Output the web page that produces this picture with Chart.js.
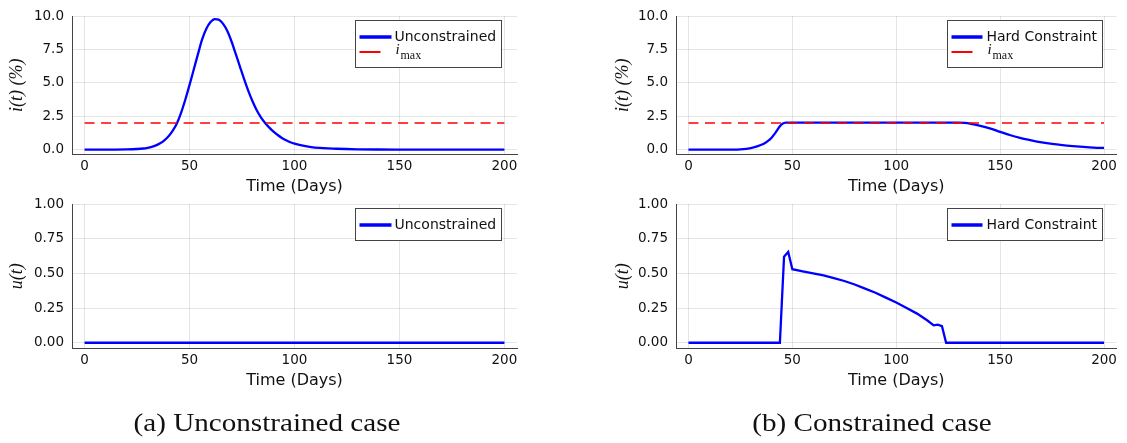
<!DOCTYPE html>
<html>
<head>
<meta charset="utf-8">
<script src="https://cdn.jsdelivr.net/npm/chart.js@4.4.1/dist/chart.umd.min.js"></script>
<style>
body { margin: 0; background: #fff; width: 1127px; height: 443px; overflow: hidden; position: relative; }
canvas { position: absolute; left: 0; top: 0; }
.cap { position: absolute; top: 410px; width: 400px; text-align: center; font-family: 'Liberation Serif', serif;
       font-size: 26px; line-height: 26px; white-space: nowrap; color: #111; transform: scaleX(1.12); transform-origin: center; }
</style>
</head>
<body>
<canvas id="tl" width="1127" height="443"></canvas>
<canvas id="tr" width="1127" height="443"></canvas>
<canvas id="bl" width="1127" height="443"></canvas>
<canvas id="br" width="1127" height="443"></canvas>
<div class="cap" style="left:66.5px">(a) Unconstrained case</div>
<div class="cap" style="left:672px">(b) Constrained case</div>
<script>
// 數據
const xTicks = [0, 50, 100, 150, 200];
const iTicks = [0, 2.5, 5, 7.5, 10];
const uTicks = [0, 0.25, 0.5, 0.75, 1];

const imaxDays = [0, 200];
const imaxValues = [2, 2];

// 無約束 i(t)
const freeDays = [0,10,20,25,28,30,32,34,36,38,40,42,44,46,48,50,52,54,56,58,60,62,64,66,68,70,72,74,76,78,80,82,84,86,88,90,92,94,96,98,100,104,108,112,116,120,130,140,150,175,200];
const freeI = [0,0.005,0.02,0.05,0.09,0.14,0.21,0.32,0.48,0.7,1.0,1.42,1.98,2.78,3.76,4.85,6.0,7.15,8.25,9.05,9.55,9.78,9.72,9.42,8.88,8.1,7.17,6.22,5.28,4.4,3.62,2.95,2.42,2.0,1.65,1.35,1.1,0.88,0.7,0.56,0.45,0.3,0.2,0.14,0.1,0.07,0.03,0.015,0.01,0.005,0];

// 硬約束 i(t)
const hardDays = [0,10,20,25,30,33,36,38,40,42,44,45,46,47,60,80,100,120,130,133,136,140,145,150,155,160,165,170,175,180,185,190,195,200];
const hardI = [0,0.003,0.01,0.03,0.12,0.25,0.43,0.62,0.9,1.3,1.75,1.92,2.0,2.02,2.02,2.02,2.02,2.02,2.02,2.0,1.93,1.8,1.6,1.33,1.08,0.87,0.7,0.55,0.43,0.34,0.27,0.21,0.16,0.13];

// 控制 u(t)
const freeUDays = [0, 200];
const freeU = [0, 0];
const ctrlDays = [0,44,46,48,50,55,60,65,70,75,80,85,90,95,100,105,110,115,118,120,122,124,200];
const ctrlU = [0,0,0.62,0.655,0.53,0.515,0.5,0.485,0.465,0.445,0.42,0.39,0.36,0.325,0.29,0.25,0.21,0.16,0.125,0.13,0.12,0,0];

const W = 1127, H = 443;
const BLUE = '#0000ff', RED = '#ff0000';

Chart.defaults.font.family = "'DejaVu Sans'";
Chart.defaults.color = '#111';

function pts(xs, ys) {
    return xs.map((x, i) => ({ x: x, y: ys[i] }));
}

// 框內圖例
const boxLegend = {
    id: 'boxLegend',
    afterDraw(chart, args, opts) {
        const ctx = chart.ctx;
        const ca = chart.chartArea;
        const items = opts.items;
        ctx.save();
        ctx.font = "14px 'DejaVu Sans'";
        let textW = 0;
        items.forEach(it => {
            if (!it.math) textW = Math.max(textW, ctx.measureText(it.text).width);
        });
        const w = Math.round(44 + textW);
        const h = items.length === 2 ? 47 : 32;
        const left = Math.round(ca.right - opts.inset - w) + 0.5;
        const top = Math.round(ca.top + 4) + 0.5;
        ctx.fillStyle = '#fff';
        ctx.fillRect(left, top, w, h);
        ctx.strokeStyle = '#444';
        ctx.lineWidth = 1;
        ctx.strokeRect(left, top, w, h);
        items.forEach((it, i) => {
            const cy = top + 16.5 + i * 15;
            ctx.beginPath();
            ctx.strokeStyle = it.color;
            ctx.lineWidth = it.width;
            ctx.moveTo(left + 4, cy);
            ctx.lineTo(left + 4 + it.len, cy);
            ctx.stroke();
            ctx.fillStyle = '#111';
            if (it.math) {
                ctx.textBaseline = 'alphabetic';
                ctx.font = "italic 15px 'Liberation Serif'";
                ctx.fillText('i', left + 40, cy + 1.5);
                ctx.font = "12px 'Liberation Serif'";
                ctx.fillText('max', left + 45, cy + 6.5);
            } else {
                ctx.textBaseline = 'middle';
                ctx.font = "14px 'DejaVu Sans'";
                ctx.fillText(it.text, left + 39, cy + 0.5);
            }
        });
        ctx.restore();
    }
};

function makeChart(id, p) {
    return new Chart(document.getElementById(id), {
        type: 'line',
        data: { datasets: p.datasets },
        options: {
            responsive: false,
            animation: false,
            devicePixelRatio: 1,
            layout: {
                padding: { left: p.scaleLeft, top: p.area.top, right: W - p.area.right, bottom: H - p.area.bottom - 42 }
            },
            plugins: {
                legend: { display: false },
                tooltip: { enabled: false },
                boxLegend: { items: p.legend, inset: p.inset }
            },
            scales: {
                x: {
                    type: 'linear',
                    min: -6,
                    max: 206,
                    afterBuildTicks: s => { s.ticks = xTicks.map(v => ({ value: v })); },
                    afterFit: s => { s.height = 42; },
                    ticks: { font: { size: 13.5 }, padding: 4, color: '#111', maxRotation: 0, autoSkip: false,
                             callback: v => String(v) },
                    grid: { color: 'rgba(0,0,0,0.1)', drawTicks: false },
                    border: { display: true, color: '#444', width: 1 },
                    title: { display: true, text: 'Time (Days)', font: { size: 16 }, padding: { top: 0, bottom: 0 }, color: '#111' }
                },
                y: {
                    type: 'linear',
                    min: p.yMin,
                    max: p.yMax,
                    afterBuildTicks: s => { s.ticks = p.yTicks.map(v => ({ value: v })); },
                    afterFit: s => { s.width = p.area.left - p.scaleLeft; },
                    ticks: { font: { size: 13.5 }, padding: 8, color: '#111', autoSkip: false,
                             callback: v => v.toFixed(p.digits) },
                    grid: { color: 'rgba(0,0,0,0.1)', drawTicks: false },
                    border: { display: true, color: '#444', width: 1 },
                    title: { display: true, text: p.yTitle, color: '#111', padding: { top: 0, bottom: 0 },
                             font: { family: "'Liberation Serif'", style: 'italic', size: 18 } }
                }
            }
        },
        plugins: [boxLegend]
    });
}

function blueLine(label, xs, ys, smooth) {
    return { label: label, data: pts(xs, ys), borderColor: BLUE, borderWidth: 2.3, pointRadius: 0,
             fill: false, tension: smooth ? 0.4 : 0, cubicInterpolationMode: smooth ? 'monotone' : 'default' };
}
function imaxLine() {
    return { label: 'i_max', data: pts(imaxDays, imaxValues), borderColor: RED, borderWidth: 1.6,
             borderDash: [10, 6.5], pointRadius: 0, fill: false };
}

const legUnc = { text: 'Unconstrained', color: BLUE, width: 3.5, len: 32 };
const legHard = { text: 'Hard Constraint', color: BLUE, width: 3.5, len: 31 };
const legImax = { math: true, color: RED, width: 2, len: 21 };

const topArgs = { yMin: -0.36, yMax: 10, yTicks: iTicks, digits: 1, yTitle: 'i(t) (%)' };
const botArgs = { yMin: -0.04, yMax: 1, yTicks: uTicks, digits: 2, yTitle: 'u(t)' };

makeChart('tl', Object.assign({}, topArgs, {
    area: { left: 72, right: 517, top: 11, bottom: 154.5 }, scaleLeft: 6, inset: 16,
    datasets: [imaxLine(), blueLine('Unconstrained', freeDays, freeI, true)],
    legend: [legUnc, legImax]
}));
makeChart('tr', Object.assign({}, topArgs, {
    area: { left: 676, right: 1116.5, top: 11, bottom: 154.5 }, scaleLeft: 612.5, inset: 14.5,
    datasets: [imaxLine(), blueLine('Hard Constraint', hardDays, hardI, true)],
    legend: [legHard, legImax]
}));
makeChart('bl', Object.assign({}, botArgs, {
    area: { left: 72, right: 517, top: 204, bottom: 348.3 }, scaleLeft: 6, inset: 16,
    datasets: [blueLine('Unconstrained', freeUDays, freeU, false)],
    legend: [legUnc]
}));
makeChart('br', Object.assign({}, botArgs, {
    area: { left: 676, right: 1116.5, top: 204, bottom: 348.3 }, scaleLeft: 612.5, inset: 14.5,
    datasets: [blueLine('Hard Constraint', ctrlDays, ctrlU, false)],
    legend: [legHard]
}));
</script>
</body>
</html>
